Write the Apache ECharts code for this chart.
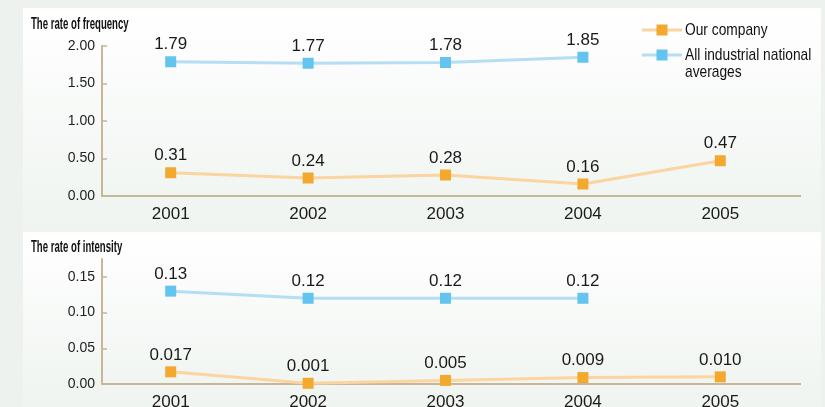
<!DOCTYPE html>
<html><head><meta charset="utf-8">
<script src="https://cdn.jsdelivr.net/npm/echarts@6/dist/echarts.min.js"></script>
<style>html,body{margin:0;padding:0;background:#edf2ee;}#c{width:825px;height:407px;}</style>
</head><body><div id="c"></div>
<script>
var years = ['2001', '2002', '2003', '2004', '2005'];
var freqOur = [0.31, 0.24, 0.28, 0.16, 0.47];
var freqNat = [1.79, 1.77, 1.78, 1.85, null];
var intOur = [0.017, 0.001, 0.005, 0.009, 0.010];
var intNat = [0.13, 0.12, 0.12, 0.12, null];
var freqTicks = [0, 0.5, 1, 1.5, 2];
var intTicks = [0, 0.05, 0.1, 0.15];
var seriesNames = ['Our company', 'All industrial national averages'];
var titles = ['The rate of frequency', 'The rate of intensity'];

var chart = echarts.init(document.getElementById('c'), null, {renderer: 'canvas'});
var axisColor = '#c6b796';
var ourLine = '#fbd4a0', ourMark = '#f2a92e';
var natLine = '#b5def4', natMark = '#62c4ef';

function mkX(idx) {
  return {type: 'category', gridIndex: idx, data: years, boundaryGap: true,
    axisLine: {lineStyle: {color: axisColor, width: 2}},
    axisTick: {inside: true, length: 6, lineStyle: {color: axisColor, width: 1.5}},
    axisLabel: {fontFamily: 'Liberation Sans', fontSize: 17, color: '#1a1a1a', margin: 10},
    splitLine: {show: false}};
}
function mkY(idx, max, ticks) {
  return {type: 'value', gridIndex: idx, min: 0, max: max,
    axisLine: {show: true, lineStyle: {color: axisColor, width: 2}},
    axisTick: {show: true, inside: true, length: 5, customValues: ticks, lineStyle: {color: axisColor, width: 1.5}},
    axisLabel: {customValues: ticks, fontFamily: 'Liberation Sans', fontSize: 14, color: '#222', margin: 7,
      formatter: function (v) { return v.toFixed(2); }},
    splitLine: {show: false}};
}
function mkSeries(name, data, gi, lineC, markC, dec) {
  return {name: name, type: 'line', xAxisIndex: gi, yAxisIndex: gi, data: data,
    symbol: 'rect', symbolSize: 11, showAllSymbol: true,
    lineStyle: {color: lineC, width: 3}, itemStyle: {color: markC},
    label: {show: true, position: 'top', distance: 3, fontFamily: 'Liberation Sans', fontSize: 17, color: '#1a1a1a',
      formatter: function (p) { return p.value == null ? '' : Number(p.value).toFixed(dec); }},
    emphasis: {disabled: true}, animation: false};
}
function condText(str, x, y, font, sx) {
  return {type: 'text', z: 10, x: x, y: y, scaleX: sx, silent: true,
    style: {text: str, x: 0, y: 0, font: font, fill: '#111', textVerticalAlign: 'middle', textAlign: 'left'}};
}
function legendIcon(y, lineC, markC) {
  return [
    {type: 'line', z: 10, silent: true, shape: {x1: 642, y1: y, x2: 682, y2: y}, style: {stroke: lineC, lineWidth: 3}},
    {type: 'rect', z: 11, silent: true, shape: {x: 656.5, y: y - 5.5, width: 11, height: 11}, style: {fill: markC}}
  ];
}

var panelFill = {type: 'linear', x: 0, y: 0, x2: 0, y2: 1,
  colorStops: [{offset: 0, color: '#ffffff'}, {offset: 1, color: '#eff4f0'}]};
var legendFont = '17px "Liberation Sans"';
var titleFont = 'bold 16px "Liberation Sans"';

chart.setOption({
  backgroundColor: '#edf2ee',
  animation: false,
  graphic: [
    {type: 'rect', z: -10, shape: {x: 23, y: 8, width: 798, height: 224}, style: {fill: panelFill}, silent: true},
    {type: 'rect', z: -10, shape: {x: 23, y: 232, width: 798, height: 175}, style: {fill: panelFill}, silent: true},
    {type: 'line', z: 5, shape: {x1: 789, y1: 196, x2: 801, y2: 196}, style: {stroke: axisColor, lineWidth: 2}, silent: true},
    {type: 'line', z: 5, shape: {x1: 789, y1: 384, x2: 801, y2: 384}, style: {stroke: axisColor, lineWidth: 2}, silent: true},
    condText(titles[0], 31, 25, titleFont, 0.6),
    condText(titles[1], 31, 248, titleFont, 0.6),
    condText(seriesNames[0], 685, 30, legendFont, 0.81),
    condText('All industrial national', 685, 55, legendFont, 0.81),
    condText('averages', 685, 72, legendFont, 0.81)
  ].concat(legendIcon(30, ourLine, ourMark)).concat(legendIcon(55, natLine, natMark)),
  grid: [
    {left: 102, right: 36, top: 46, bottom: 211, containLabel: false, outerBoundsMode: 'none'},
    {left: 102, right: 36, top: 259, bottom: 23, containLabel: false, outerBoundsMode: 'none'}
  ],
  xAxis: [mkX(0), mkX(1)],
  yAxis: [mkY(0, 2, freqTicks), mkY(1, 0.175, intTicks)],
  series: [
    mkSeries(seriesNames[0], freqOur, 0, ourLine, ourMark, 2),
    mkSeries(seriesNames[1], freqNat, 0, natLine, natMark, 2),
    mkSeries(seriesNames[0], intOur, 1, ourLine, ourMark, 3),
    mkSeries(seriesNames[1], intNat, 1, natLine, natMark, 2)
  ]
});
</script></body></html>
